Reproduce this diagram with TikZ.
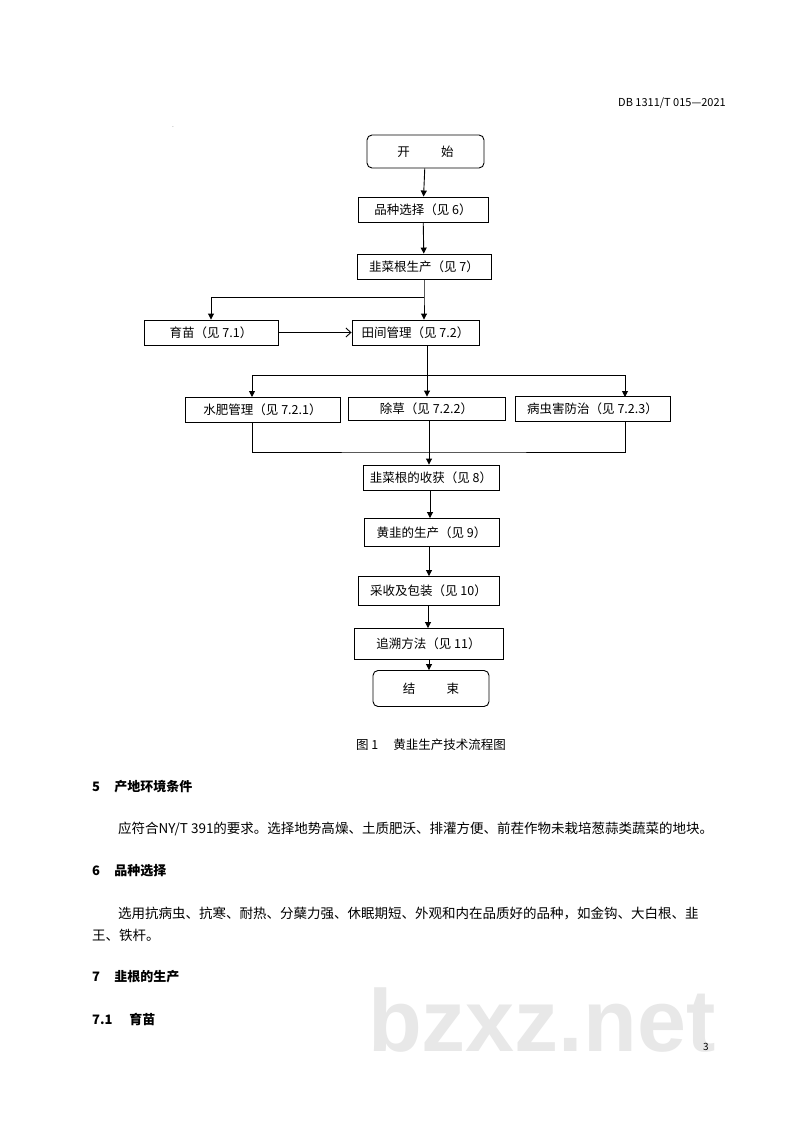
\documentclass[tikz,border=0pt]{standalone}
\usepackage{fontspec}
\setmainfont{Noto Sans CJK SC}
\newfontfamily\wm{Liberation Sans}
\usetikzlibrary{arrows.meta}
\begin{document}
\begin{tikzpicture}[x=1pt,y=-1pt,
  box/.style={draw,line width=0.9pt,inner sep=0pt,font=\fontsize{12.5}{13}\selectfont},
  rbox/.style={box,rounded corners=5pt},
  ln/.style={line width=0.9pt},
  arr/.style={ln,-{Triangle[length=6pt,width=6pt]}},
  txt/.style={anchor=west,inner sep=0pt,font=\fontsize{13.5}{14}\selectfont},
  hd/.style={anchor=west,inner sep=0pt,font=\fontsize{13}{14}\selectfont\bfseries}]
\useasboundingbox (0,0) rectangle (800,1131);
\fill[white] (0,0) rectangle (800,1131);
% watermark
\node[anchor=west,inner sep=0pt,text=black!9,font=\wm\fontsize{88}{90}\selectfont\bfseries] (wmk) at (368,1020) {bzxz.net};
\node[anchor=east,inner sep=0pt,font=\fontsize{11}{12}\selectfont] (hdr) at (726,103) {DB 1311/T 015—2021};
\node[inner sep=0pt,font=\tiny] (dot) at (173,127) {.};
% boxes
\node[rbox,minimum width=117pt,minimum height=33pt] (s) at (425.5,151.5) {开\hspace{2.5em}始};
\node[box,minimum width=130pt,minimum height=25pt] (a) at (423,209.5) {品种选择（见 6）};
\node[box,minimum width=134pt,minimum height=25pt] (b) at (424,266.5) {韭菜根生产（见 7）};
\node[box,minimum width=134pt,minimum height=25pt] (c1) at (211,332.5) {育苗（见 7.1）};
\node[box,minimum width=127pt,minimum height=25pt] (c2) at (415.5,332.5) {田间管理（见 7.2）};
\node[box,minimum width=155pt,minimum height=25pt] (d1) at (262.5,409.5) {水肥管理（见 7.2.1）};
\node[box,minimum width=157pt,minimum height=23pt] (d2) at (426.5,408.5) {除草（见 7.2.2）};
\node[box,minimum width=155pt,minimum height=25pt] (d3) at (592.5,409) {病虫害防治（见 7.2.3）};
\node[box,minimum width=136pt,minimum height=25pt] (e) at (431,477.5) {韭菜根的收获（见 8）};
\node[box,minimum width=135pt,minimum height=28pt] (f) at (431.5,532.5) {黄韭的生产（见 9）};
\node[box,minimum width=141pt,minimum height=29pt] (g) at (428.5,591) {采收及包装（见 10）};
\node[box,minimum width=149pt,minimum height=31pt] (h) at (428.5,644) {追溯方法（见 11）};
\node[rbox,minimum width=116pt,minimum height=36pt] (t) at (431,688.5) {结\hspace{2.5em}束};
% connectors
\draw[arr] (s) -- (a);
\draw[arr] (a) -- (b);
\coordinate (j1) at (424,297);
\draw[arr] (b.south) -- (j1) -- (c2.north -| j1);
\draw[arr] (j1) -| (c1.north);
\draw[arr,-{Straight Barb[length=5pt,width=9pt]}] (c1) -- (c2);
\coordinate (j2) at (427,375);
\draw[ln] (c2.south -| j2) -- (j2);
\draw[arr] (j2) -- (d2.north -| j2);
\draw[arr] (252,375) -- (252,397);
\draw[arr] (625,375) -- (625,397);
\draw[ln] (252,375) -- (625,375);
\coordinate (j3) at (429,452);
\draw[ln] (d1.south -| 252,0) |- (j3) -| (d3.south -| 625,0);
\draw[arr] (d2.south -| j3) -- (e.north -| j3);
\draw[arr] (e.south -| 430,0) -- (f.north -| 430,0);
\draw[arr] (f.south -| 429,0) -- (g.north -| 429,0);
\draw[arr] (g.south -| 428,0) -- (h.north -| 428,0);
\draw[arr] (h.south -| 429,0) -- (t.north -| 429,0);
% caption and text
\node[inner sep=0pt,font=\fontsize{12.5}{13}\selectfont] (cap) at (431,745) {图 1\hspace{1.2em}黄韭生产技术流程图};
\node[hd] (h5) at (92,787) {5\hspace{1.1em}产地环境条件};
\node[txt] (p5) at (118,829) {应符合NY/T 391的要求。选择地势高燥、土质肥沃、排灌方便、前茬作物未栽培葱蒜类蔬菜的地块。};
\node[hd] (h6) at (92,871) {6\hspace{1.1em}品种选择};
\node[txt] (p6) at (118,913) {选用抗病虫、抗寒、耐热、分蘖力强、休眠期短、外观和内在品质好的品种，如金钩、大白根、韭};
\node[txt] (p6b) at (92,935) {王、铁杆。};
\node[hd] (h7) at (92,977) {7\hspace{1.1em}韭根的生产};
\node[hd] (h71) at (92,1019) {7.1\hspace{1.3em}育苗};
\node[inner sep=0pt,font=\fontsize{10}{11}\selectfont] (pg) at (706,1047) {3};
\end{tikzpicture}
\end{document}
